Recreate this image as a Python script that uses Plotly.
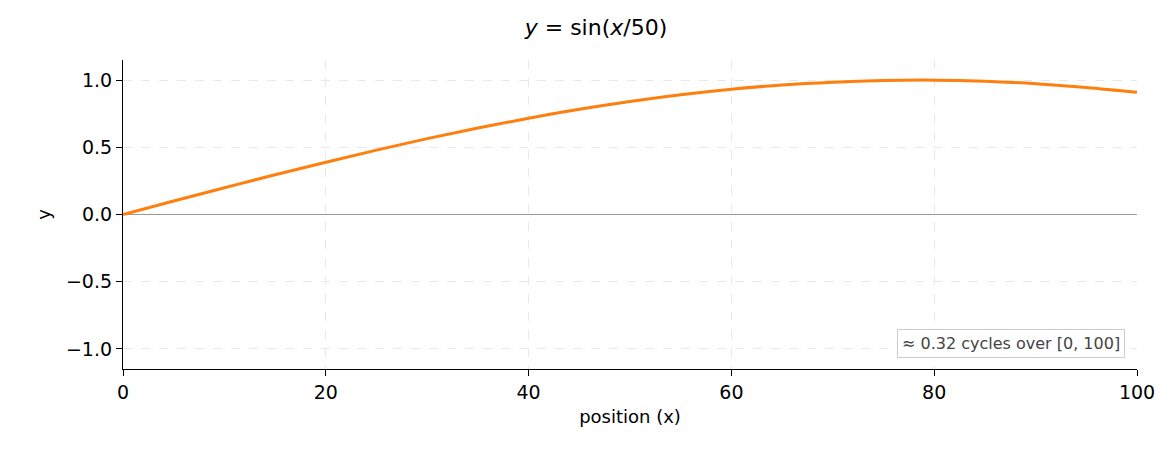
import plotly.graph_objects as go

# values
x_pos = [0, 5, 10, 15, 20, 25, 30, 35, 40, 45, 50,
         55, 60, 65, 70, 75, 80, 85, 90, 95, 100]
y_val = [0.0, 0.10, 0.199, 0.296, 0.389, 0.479, 0.565, 0.644, 0.717, 0.783, 0.841,
         0.891, 0.932, 0.964, 0.985, 0.997, 1.0, 0.992, 0.974, 0.946, 0.909]

x_ticks = [0, 20, 40, 60, 80, 100]
y_ticks = [-1.0, -0.5, 0.0, 0.5, 1.0]
y_tick_text = ["\u22121.0", "\u22120.5", "0.0", "0.5", "1.0"]

font = "DejaVu Sans"

fig = go.Figure()
fig.add_trace(go.Scatter(
    x=x_pos, y=y_val, mode="lines", line_shape="spline",
    line=dict(color="#ff7f0e", width=3), showlegend=False,
))

fig.update_layout(
    width=1176, height=456,
    paper_bgcolor="white", plot_bgcolor="white",
    margin=dict(l=115, r=47, t=52, b=95),
    font=dict(family=font, size=19, color="black"),
    title=dict(text="<i>y</i> = sin(<i>x</i>/50)", x=0.5, xanchor="center",
               y=0.975, yanchor="top", font=dict(size=22)),
)
grid = dict(showgrid=True, gridcolor="#e8e8e8", griddash="dash", gridwidth=1,
            showline=True, linecolor="black", linewidth=1.2,
            ticks="outside", ticklen=6, tickcolor="black")
fig.update_xaxes(range=[0, 100], tickvals=x_ticks, zeroline=False,
                 title=dict(text="position (x)", font=dict(size=18), standoff=8), **grid)
fig.update_yaxes(range=[-1.15, 1.15], tickvals=y_ticks, ticktext=y_tick_text,
                 title=dict(text="y", font=dict(size=18), standoff=10),
                 zeroline=True, zerolinecolor="#999999", zerolinewidth=1, **grid)

fig.add_annotation(
    text="\u2248 0.32 cycles over [0, 100]", xref="paper", yref="paper",
    x=0.988, y=0.035, xanchor="right", yanchor="bottom", showarrow=False,
    font=dict(size=16, color="#444444"), bgcolor="white",
    bordercolor="#cccccc", borderwidth=1, borderpad=4,
)

fig.write_html("out.html")
